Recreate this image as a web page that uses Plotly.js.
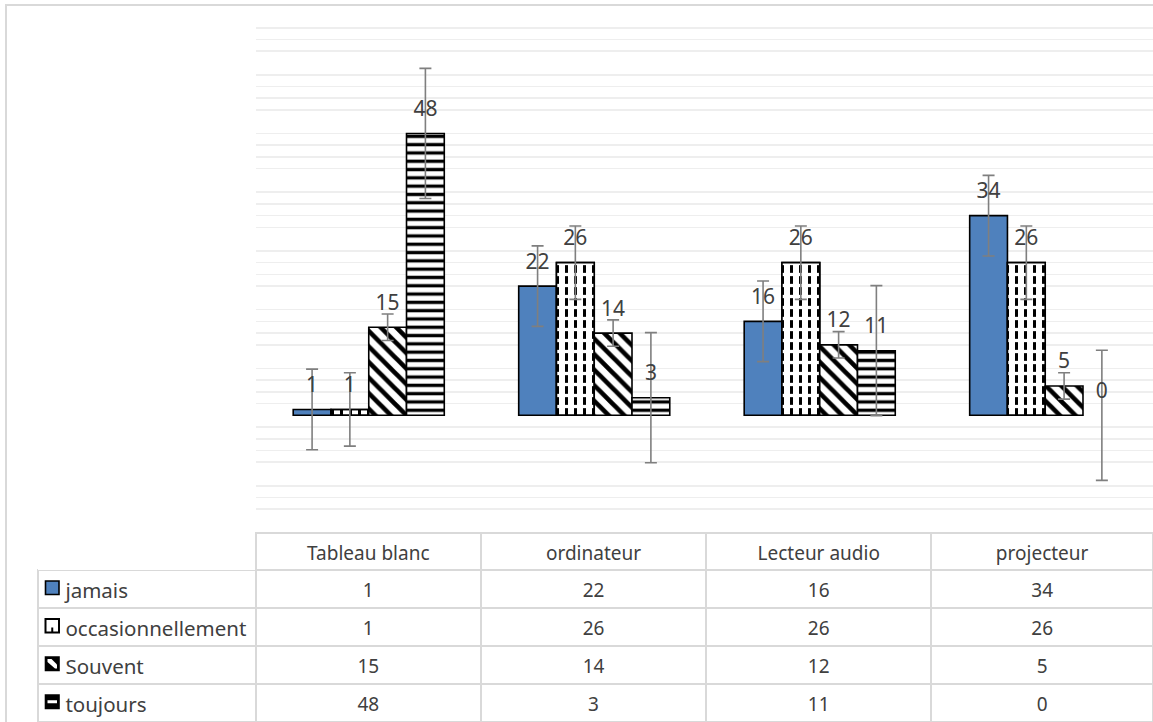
<!DOCTYPE html>
<html>
<head>
<meta charset="utf-8">
<script src="https://cdn.plot.ly/plotly-3.0.1.min.js"></script>
<style>
html,body{margin:0;padding:0;background:#fff;}
#chart{width:1153px;height:722px;}
</style>
</head>
<body>
<div id="chart"></div>
<script>
// ---- data ----
const categories = ['Tableau blanc', 'ordinateur', 'Lecteur audio', 'projecteur'];
const seriesNames = ['jamais', 'occasionnellement', 'Souvent', 'toujours'];
const jamais = [1, 22, 16, 34];
const occasionnellement = [1, 26, 26, 26];
const souvent = [15, 14, 12, 5];
const toujours = [48, 3, 11, 0];
// error bar half-lengths (one per series)
const errors = [6.86, 6.25, 2.25, 11.08];

const seriesValues = [jamais, occasionnellement, souvent, toujours];

// ---- styles ----
const W = 1153, H = 722;
const FONT = 'Noto Sans, Open Sans, DejaVu Sans, sans-serif';
const TEXTCOL = '#404040';
const ERRCOL = '#7f7f7f';
const GRIDCOL = '#eeeeee';
const TABLELINE = '#d9d9d9';
const BLUE = '#4F81BD';

function errY(v) {
  return {type: 'constant', value: v, color: ERRCOL, thickness: 1.6, width: 6, visible: true};
}
function barLine(vals) {
  // zero-height bars draw no outline
  return {color: '#000000', width: vals.map(function (v) { return v === 0 ? 0 : 1.6; })};
}

const traces = [];
traces.push({
  type: 'bar', name: seriesNames[0], x: categories, y: jamais, offsetgroup: 'g1',
  marker: {color: BLUE, line: barLine(jamais)},
  error_y: errY(errors[0])
});
traces.push({
  type: 'bar', name: seriesNames[1], x: categories, y: occasionnellement, offsetgroup: 'g2',
  marker: {color: '#ffffff', line: barLine(occasionnellement),
    pattern: {shape: '|', fgcolor: '#000000', bgcolor: '#ffffff', size: 9, solidity: 0.33, fillmode: 'replace'}}
});
traces.push({
  type: 'bar', name: seriesNames[1] + '_dash', x: categories, y: occasionnellement, offsetgroup: 'g2',
  showlegend: false,
  marker: {color: 'rgba(0,0,0,0)', line: barLine(occasionnellement),
    pattern: {shape: '-', fgcolor: '#ffffff', size: 11, solidity: 0.3, fillmode: 'overlay', fgopacity: 1}},
  error_y: errY(errors[1])
});
traces.push({
  type: 'bar', name: seriesNames[2], x: categories, y: souvent, offsetgroup: 'g3',
  marker: {color: '#ffffff', line: barLine(souvent),
    pattern: {shape: '\\', fgcolor: '#000000', bgcolor: '#ffffff', size: 11, solidity: 0.42, fillmode: 'replace'}},
  error_y: errY(errors[2])
});
traces.push({
  type: 'bar', name: seriesNames[3], x: categories, y: toujours, offsetgroup: 'g4',
  marker: {color: '#ffffff', line: barLine(toujours),
    pattern: {shape: '-', fgcolor: '#000000', bgcolor: '#ffffff', size: 8.3, solidity: 0.4, fillmode: 'replace'}},
  error_y: errY(errors[3])
});

// data labels (grouped scatter text aligned with the bars)
seriesValues.forEach(function (vals, i) {
  traces.push({
    type: 'scatter', mode: 'markers+text', x: categories, y: vals,
    offsetgroup: 'g' + (i + 1),
    text: vals.map(String), textposition: 'top center',
    textfont: {family: FONT, size: 21, color: TEXTCOL},
    marker: {size: 18, opacity: 0, color: '#ffffff'},
    cliponaxis: false, showlegend: false, hoverinfo: 'skip'
  });
});

// data table below the chart
const NB = '\u00A0\u00A0\u00A0\u2009';
const rowLabels = seriesNames.map(function (n) { return NB + n; });
const tableColumns = [rowLabels].concat(categories.map(function (c, ci) {
  return seriesValues.map(function (vals) { return String(vals[ci]); });
}));
const TABLE_TOP = 533, HEADER_H = 37, ROW_H = 38, TABLE_LEFT = 38;
traces.push({
  type: 'table',
  domain: {x: [TABLE_LEFT / W, 1], y: [0, (H - TABLE_TOP) / H]},
  columnwidth: [218, 225.5, 225.5, 225.5, 222],
  header: {
    values: [''].concat(categories),
    height: HEADER_H,
    align: 'center',
    fill: {color: '#ffffff'},
    line: {color: ['rgba(0,0,0,0)', TABLELINE, TABLELINE, TABLELINE, TABLELINE], width: 2},
    font: {family: FONT, size: 19, color: TEXTCOL}
  },
  cells: {
    values: tableColumns,
    height: ROW_H,
    align: ['left', 'center', 'center', 'center', 'center'],
    fill: {color: '#ffffff'},
    line: {color: TABLELINE, width: 2},
    font: {family: FONT, size: [20.5, 19, 19, 19, 19], color: TEXTCOL}
  }
});

// ---- legend keys in the table (decoration) ----
function px(x) { return x / W; }
function py(y) { return (H - y) / H; }
const shapes = [{
  type: 'rect', xref: 'paper', yref: 'paper', layer: 'below',
  x0: px(6), x1: 1.02, y0: -0.02, y1: py(5),
  line: {color: TABLELINE, width: 2}, fillcolor: 'rgba(0,0,0,0)'
}];
const KL = 45.5, KS = 13.5;
seriesNames.forEach(function (n, i) {
  const t = TABLE_TOP + HEADER_H + i * ROW_H + 11;
  const l = KL, r = KL + KS, b = t + KS;
  const base = {type: 'rect', xref: 'paper', yref: 'paper', layer: 'above',
    x0: px(l), x1: px(r), y0: py(b), y1: py(t), line: {color: '#000000', width: 1.6}};
  if (i === 0) {
    shapes.push(Object.assign({}, base, {fillcolor: BLUE}));
  } else if (i === 1) {
    shapes.push(Object.assign({}, base, {fillcolor: '#ffffff', line: {color: '#000000', width: 2}}));
    shapes.push({type: 'line', xref: 'paper', yref: 'paper', layer: 'above',
      x0: px(l + KS / 2), x1: px(l + KS / 2), y0: py(b), y1: py(b - 5), line: {color: '#000000', width: 2}});
  } else if (i === 2) {
    shapes.push(Object.assign({}, base, {fillcolor: '#000000'}));
    shapes.push({type: 'path', xref: 'paper', yref: 'paper', layer: 'above', line: {width: 0}, fillcolor: '#ffffff',
      path: 'M' + px(l + 2) + ',' + py(t + 2) + ' L' + px(l + 6) + ',' + py(t + 2) +
            ' L' + px(r - 2) + ',' + py(b - 6) + ' L' + px(r - 2) + ',' + py(b - 2) +
            ' L' + px(r - 4) + ',' + py(b - 2) + ' L' + px(l + 2) + ',' + py(t + 5) + ' Z'});
  } else {
    shapes.push(Object.assign({}, base, {fillcolor: '#000000'}));
    shapes.push({type: 'rect', xref: 'paper', yref: 'paper', layer: 'above', line: {width: 0}, fillcolor: '#ffffff',
      x0: px(l + 2), x1: px(r - 2), y0: py(t + KS / 2 + 1.5), y1: py(t + KS / 2 - 1.5)});
  }
});

const layout = {
  width: W, height: H,
  margin: {l: 0, r: 0, t: 0, b: 0},
  paper_bgcolor: '#ffffff', plot_bgcolor: '#ffffff',
  showlegend: false, hovermode: false,
  barmode: 'group', bargap: 0.33, bargroupgap: 0,
  scattermode: 'group', scattergap: 0.33,
  font: {family: FONT, color: TEXTCOL},
  xaxis: {
    type: 'category', domain: [256 / W, 1], range: [-0.5, 3.478],
    showticklabels: false, showgrid: false, zeroline: false, showline: false, ticks: '', fixedrange: true
  },
  yaxis: {
    domain: [201 / H, 706 / H], range: [-18, 68], dtick: 10, tick0: 0,
    showticklabels: false, showgrid: false, zeroline: false, showline: false, ticks: '', fixedrange: true,
    minor: {dtick: 2, tick0: 0, showgrid: true, gridcolor: GRIDCOL, gridwidth: 1.6, ticks: ''}
  },
  shapes: shapes
};

Plotly.newPlot('chart', traces, layout, {displayModeBar: false, staticPlot: true}).then(function (gd) {
  // centre the table texts vertically in their rows (Plotly places them near the top)
  gd.querySelectorAll('text.cell-text').forEach(function (el) {
    const tr = el.getAttribute('transform') || '';
    el.setAttribute('transform', tr + ' translate(0,5)');
  });
});
</script>
</body>
</html>
